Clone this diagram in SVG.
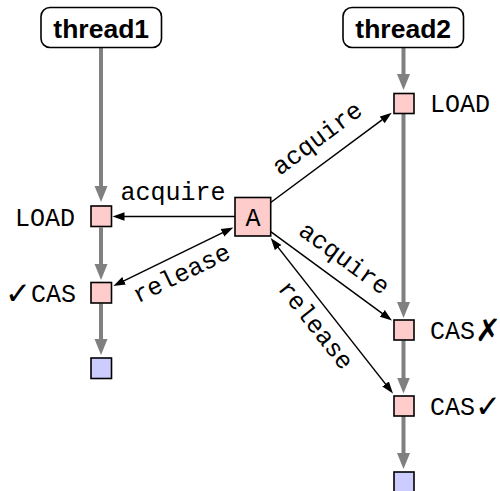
<svg xmlns="http://www.w3.org/2000/svg" width="500" height="491" viewBox="0 0 500 491">
<style>
.thr{fill:#fff;stroke:#000;stroke-width:1.6}
.thrt{font-family:"Liberation Sans",sans-serif;font-weight:bold;font-size:26.5px;text-anchor:middle}
.ev{fill:#ffcccc;stroke:#000;stroke-width:1.6}
.end{fill:#ccccff;stroke:#000;stroke-width:1.6}
.mono{font-family:"Liberation Mono",monospace;font-size:25px}
.sym{font-family:"DejaVu Sans",sans-serif;font-size:31px}
.po{stroke:#808080;stroke-width:4;fill:none;marker-end:url(#gh)}
.rel{stroke:#000;stroke-width:1.5;fill:none}
.lbl{font-family:"Liberation Mono",monospace;font-size:25px;text-anchor:middle}
</style>
<defs>
<marker id="gh" markerUnits="userSpaceOnUse" markerWidth="17" markerHeight="14" refX="3" refY="7" orient="auto"><path d="M0,0.5 L16,7 L0,13.5 z" fill="#808080"/></marker>
<marker id="bh" markerUnits="userSpaceOnUse" markerWidth="13" markerHeight="10" refX="2" refY="5" orient="auto-start-reverse"><path d="M0,0.8 L12,5 L0,9.2 z" fill="#000"/></marker>
</defs>
<g id="connectors">
<line class="po" x1="101" y1="48" x2="101" y2="189"/>
<line class="po" x1="101" y1="227.5" x2="101" y2="267"/>
<line class="po" x1="101" y1="303.5" x2="101" y2="342"/>
<line class="po" x1="403.5" y1="48" x2="403.5" y2="77"/>
<line class="po" x1="403.5" y1="114" x2="403.5" y2="305"/>
<line class="po" x1="403.5" y1="340.5" x2="403.5" y2="380.5"/>
<line class="po" x1="403.5" y1="416" x2="403.5" y2="456"/>
<line class="rel" x1="235" y1="216.5" x2="122.5" y2="216.5" marker-end="url(#bh)"/>
<line class="rel" x1="122.3" y1="281.6" x2="224.3" y2="231.9" marker-start="url(#bh)" marker-end="url(#bh)"/>
<line class="rel" x1="270.7" y1="202.5" x2="383.7" y2="118.7" marker-end="url(#bh)"/>
<line class="rel" x1="270.7" y1="231.7" x2="383.9" y2="314.6" marker-end="url(#bh)"/>
<line class="rel" x1="276.9" y1="245.9" x2="386.8" y2="385.6" marker-start="url(#bh)" marker-end="url(#bh)"/>
<text class="lbl" x="173" y="199.5">acquire</text>
<text class="lbl" transform="translate(322,144.6) rotate(-36.6)">acquire</text>
<text class="lbl" transform="translate(339.7,264.7) rotate(36.2)">acquire</text>
<text class="lbl" transform="translate(185,280.5) rotate(-26)">release</text>
<text class="lbl" transform="translate(309.5,330) rotate(51.8)">release</text>
</g>
<g id="thread1">
<rect class="thr" x="41" y="7.5" width="120.5" height="40" rx="9"/>
<text class="thrt" x="101.2" y="37.5">thread1</text>
</g>
<g id="thread2">
<rect class="thr" x="343" y="7.5" width="120.5" height="40" rx="9"/>
<text class="thrt" x="403.2" y="37.5">thread2</text>
</g>
<g id="A">
<rect class="ev" x="235" y="197.5" width="35.7" height="38.5"/>
<text class="mono" x="253" y="226" text-anchor="middle" font-size="28">A</text>
</g>
<g id="load1">
<rect class="ev" x="91" y="206" width="20.5" height="20.5"/>
<text class="mono" x="15" y="225.5">LOAD</text>
</g>
<g id="cas1">
<rect class="ev" x="91" y="282.5" width="20.5" height="20.5"/>
<text class="mono" x="5" y="302"><tspan class="sym" dy="1.5">✓</tspan><tspan dy="-1.5">CAS</tspan></text>
</g>
<g id="end1">
<rect class="end" x="91" y="358" width="20.5" height="20.5"/>
</g>
<g id="load2">
<rect class="ev" x="394" y="93.5" width="20" height="20"/>
<text class="mono" x="430" y="112">LOAD</text>
</g>
<g id="cas2">
<rect class="ev" x="394" y="320" width="20" height="20"/>
<text class="mono" x="430" y="339">CAS<tspan class="sym" dy="1.5">✗</tspan></text>
</g>
<g id="cas3">
<rect class="ev" x="394" y="396" width="20" height="20"/>
<text class="mono" x="430" y="415">CAS<tspan class="sym" dy="1.5">✓</tspan></text>
</g>
<g id="end2">
<rect class="end" x="394" y="472" width="20" height="20"/>
</g>
</svg>
